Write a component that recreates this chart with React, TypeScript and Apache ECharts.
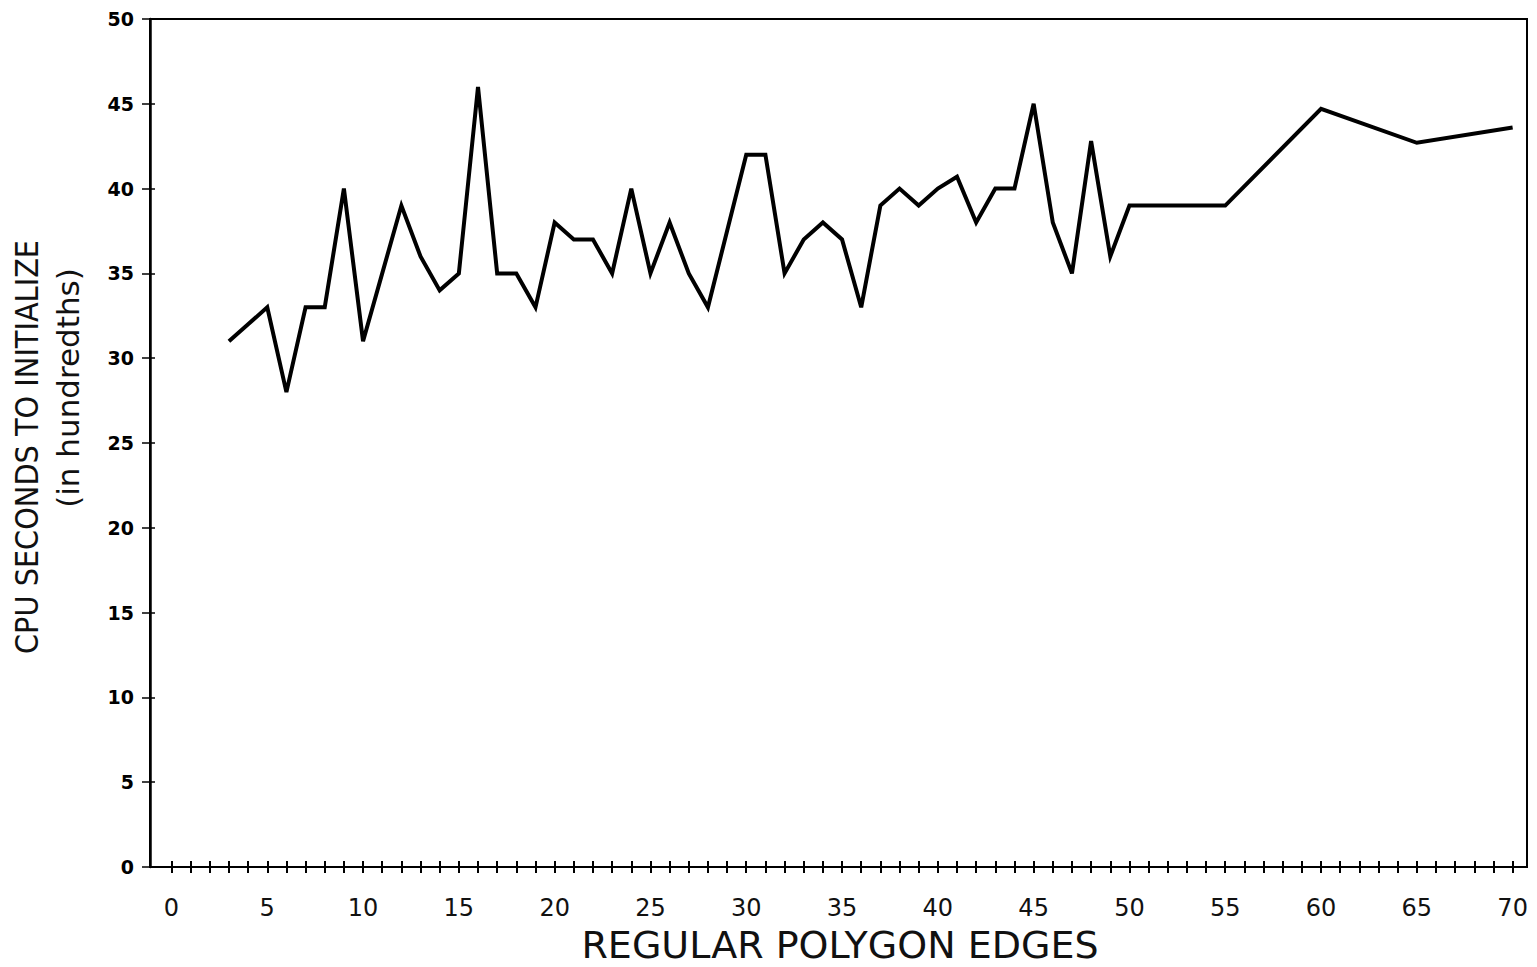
import React, { useEffect, useRef } from "react";
import * as echarts from "echarts";

// Regular polygon edge counts (x) and CPU seconds to initialize, in hundredths (y)
const edges: number[] = [
  3, 4, 5, 6, 7, 8, 9, 10, 11, 12, 13, 14, 15, 16, 17, 18, 19, 20, 21, 22, 23, 24, 25, 26,
  27, 28, 29, 30, 31, 32, 33, 34, 35, 36, 37, 38, 39, 40, 41, 42, 43, 44, 45, 46, 47, 48, 49, 50,
  55, 60, 65, 70,
];
const cpuSeconds: number[] = [
  31, 32, 33, 28, 33, 33, 40, 31, 35, 39, 36, 34, 35, 46, 35, 35, 33, 38, 37, 37, 35, 40, 35, 38,
  35, 33, 37.5, 42, 42, 35, 37, 38, 37, 33, 39, 40, 39, 40, 40.7, 38, 40, 40, 45, 38, 35, 42.8, 36, 39,
  39, 44.7, 42.7, 43.6,
];

const xTickValues: number[] = Array.from({ length: 71 }, (_, i) => i);
const xLabelValues: number[] = [0, 5, 10, 15, 20, 25, 30, 35, 40, 45, 50, 55, 60, 65, 70];

const X_MIN = -1.12;
const X_MAX = 70.75;

export default function App() {
  const ref = useRef<HTMLDivElement>(null);

  useEffect(() => {
    if (!ref.current) return;
    const chart = echarts.init(ref.current, null, { renderer: "svg" });
    const data = edges.map((e, i) => [e, cpuSeconds[i]]);

    const option: any = {
      animation: false,
      backgroundColor: "#ffffff",
      grid: {
        left: 150,
        right: 10,
        top: 19,
        bottom: 100,
        show: true,
        borderColor: "#000",
        borderWidth: 2,
        backgroundColor: "transparent",
      },
      xAxis: [
        {
          type: "value",
          min: X_MIN,
          max: X_MAX,
          position: "bottom",
          axisLine: { show: true, onZero: false, lineStyle: { color: "#000", width: 2 } },
          axisTick: {
            show: true,
            customValues: xTickValues,
            length: 6,
            inside: false,
            lineStyle: { color: "#000", width: 2 },
          },
          axisLabel: {
            show: true,
            customValues: xLabelValues,
            fontFamily: "DejaVu Sans",
            fontSize: 24,
            color: "#111",
            margin: 29,
          },
          splitLine: { show: false },
        },
        {
          type: "value",
          min: X_MIN,
          max: X_MAX,
          position: "bottom",
          axisLine: { show: false, onZero: false },
          axisTick: {
            show: true,
            customValues: xTickValues,
            length: 6,
            inside: true,
            lineStyle: { color: "#000", width: 2 },
          },
          axisLabel: { show: false },
          splitLine: { show: false },
        },
      ],
      yAxis: [
        {
          type: "value",
          min: 0,
          max: 50,
          interval: 5,
          position: "left",
          axisLine: { show: true, onZero: false, lineStyle: { color: "#000", width: 2.5 } },
          axisTick: {
            show: true,
            length: 8,
            inside: false,
            lineStyle: { color: "#000", width: 1.5 },
          },
          axisLabel: {
            show: true,
            fontFamily: "DejaVu Sans",
            fontWeight: "bold",
            fontSize: 19,
            color: "#000",
            margin: 16,
          },
          splitLine: { show: false },
        },
        {
          type: "value",
          min: 0,
          max: 50,
          interval: 5,
          position: "left",
          axisLine: { show: false, onZero: false },
          axisTick: {
            show: true,
            length: 5,
            inside: true,
            lineStyle: { color: "#000", width: 1.5 },
          },
          axisLabel: { show: false },
          splitLine: { show: false },
        },
      ],
      series: [
        {
          type: "line",
          xAxisIndex: 0,
          yAxisIndex: 0,
          data,
          showSymbol: false,
          symbol: "none",
          lineStyle: { color: "#000", width: 4, join: "miter" },
        },
      ],
      graphic: [
        {
          type: "text",
          x: 840,
          y: 945,
          style: {
            text: "REGULAR POLYGON EDGES",
            fontFamily: "DejaVu Sans",
            fontSize: 38,
            fill: "#111",
            textAlign: "center",
            textVerticalAlign: "middle",
          },
        },
        {
          type: "text",
          x: 27,
          y: 447,
          rotation: Math.PI / 2,
          style: {
            text: "CPU SECONDS TO INITIALIZE",
            fontFamily: "'Liberation Sans Narrow', 'DejaVu Sans Condensed', sans-serif",
            fontSize: 32,
            fill: "#111",
            textAlign: "center",
            textVerticalAlign: "middle",
          },
        },
        {
          type: "text",
          x: 68,
          y: 388,
          rotation: Math.PI / 2,
          style: {
            text: "(in hundredths)",
            fontFamily: "DejaVu Sans",
            fontSize: 31,
            fill: "#111",
            textAlign: "center",
            textVerticalAlign: "middle",
          },
        },
      ],
    };

    chart.setOption(option);
    return () => {
      chart.dispose();
    };
  }, []);

  return (
    <div
      ref={ref}
      style={{ position: "fixed", left: 0, top: 0, width: 1537, height: 967, background: "#fff" }}
    />
  );
}
